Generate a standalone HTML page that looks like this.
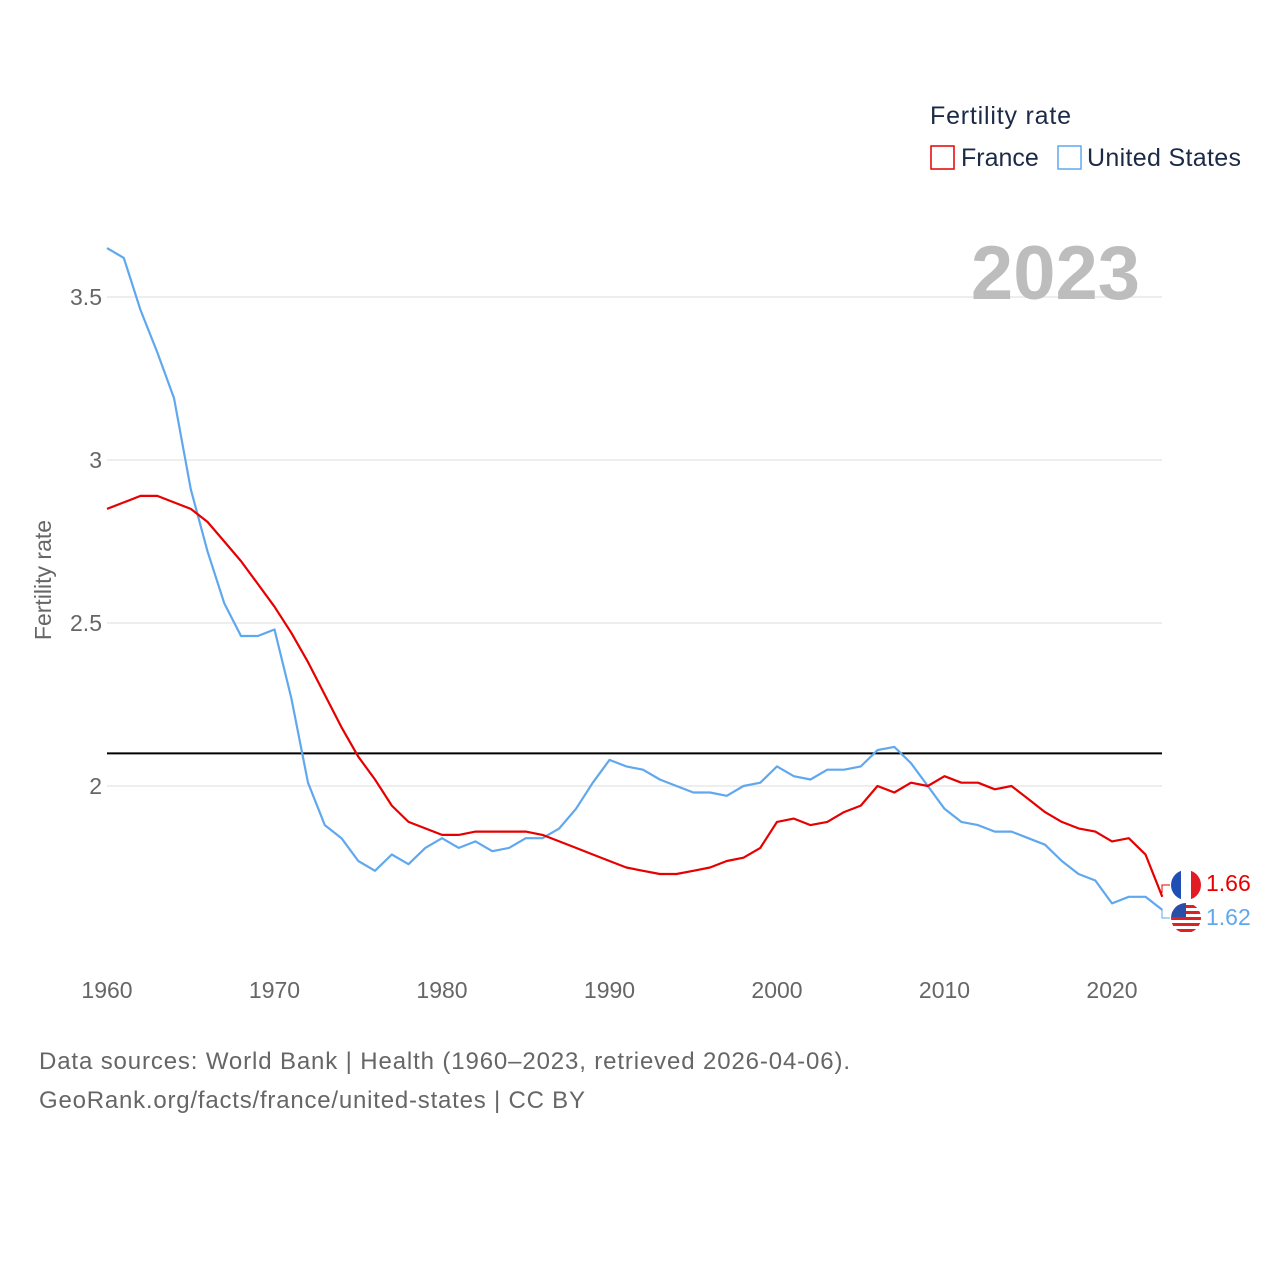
<!DOCTYPE html>
<html><head><meta charset="utf-8"><style>
body{margin:0;background:#fff;font-family:"Liberation Sans",sans-serif;}
svg text{font-family:"Liberation Sans",sans-serif;}
</style></head><body>
<svg id="chart" width="1280" height="1280" viewBox="0 0 1280 1280" xmlns="http://www.w3.org/2000/svg">
<rect width="1280" height="1280" fill="#fff"/>
<g id="grid"></g>
<g id="ylabels"></g>
<g id="xlabels"></g>
<text x="1140" y="299" text-anchor="end" font-size="76" font-weight="bold" fill="#bdbdbd">2023</text>
<text transform="translate(51,580) rotate(-90)" text-anchor="middle" font-size="23" fill="#666">Fertility rate</text>
<line id="refline" x1="107" x2="1162" stroke="#000" stroke-width="2"/>
<g id="series"></g>
<g>
<text x="930" y="124" font-size="25" fill="#1b2a47" textLength="141">Fertility rate</text>
<rect x="931" y="146" width="23" height="23" fill="none" stroke="#e60000" stroke-width="1.5"/>
<text x="961" y="166" font-size="25" fill="#1b2a47">France</text>
<rect x="1058" y="146" width="23" height="23" fill="none" stroke="#5fa8ef" stroke-width="1.5"/>
<text x="1087" y="166" font-size="25" fill="#1b2a47" textLength="154">United States</text>
</g>
<path d="M1162,893 V885 H1170" fill="none" stroke="#e60000" stroke-width="1"/>
<path d="M1162,910 V918 H1170" fill="none" stroke="#5fa8ef" stroke-width="1"/>
<g>
<clipPath id="cf"><circle cx="1186" cy="885" r="15"/></clipPath>
<g clip-path="url(#cf)"><rect x="1171" y="870" width="10" height="30" fill="#1f4fb5"/><rect x="1181" y="870" width="10" height="30" fill="#fff"/><rect x="1191" y="870" width="10" height="30" fill="#e31b23"/></g>
</g>
<g>
<clipPath id="cu"><circle cx="1186" cy="918" r="15"/></clipPath>
<g clip-path="url(#cu)"><rect x="1171" y="903" width="30" height="30" fill="#fff"/>
<rect x="1171" y="905" width="30" height="3" fill="#d22"/><rect x="1171" y="911" width="30" height="3" fill="#d22"/><rect x="1171" y="917" width="30" height="3" fill="#d22"/><rect x="1171" y="923" width="30" height="3" fill="#d22"/><rect x="1171" y="929" width="30" height="3" fill="#d22"/>
<rect x="1171" y="903" width="15" height="14" fill="#2b4fa8"/></g>
</g>
<text id="lblF" x="1206" y="891" font-size="23" fill="#e60000"></text>
<text id="lblU" x="1206" y="925" font-size="23" fill="#5fa8ef"></text>
<text x="39" y="1069" font-size="24" fill="#666" textLength="811">Data sources: World Bank | Health (1960–2023, retrieved 2026-04-06).</text>
<text x="39" y="1108" font-size="24" fill="#666" textLength="546">GeoRank.org/facts/france/united-states | CC BY</text>
</svg>
<script>
const years=[];for(let y=1960;y<=2023;y++)years.push(y);
const france=[2.85,2.87,2.89,2.89,2.87,2.85,2.81,2.75,2.69,2.62,2.55,2.47,2.38,2.28,2.18,2.09,2.02,1.94,1.89,1.87,1.85,1.85,1.86,1.86,1.86,1.86,1.85,1.83,1.81,1.79,1.77,1.75,1.74,1.73,1.73,1.74,1.75,1.77,1.78,1.81,1.89,1.90,1.88,1.89,1.92,1.94,2.00,1.98,2.01,2.00,2.03,2.01,2.01,1.99,2.00,1.96,1.92,1.89,1.87,1.86,1.83,1.84,1.79,1.66];
const us=[3.65,3.62,3.46,3.33,3.19,2.91,2.72,2.56,2.46,2.46,2.48,2.27,2.01,1.88,1.84,1.77,1.74,1.79,1.76,1.81,1.84,1.81,1.83,1.80,1.81,1.84,1.84,1.87,1.93,2.01,2.08,2.06,2.05,2.02,2.00,1.98,1.98,1.97,2.00,2.01,2.06,2.03,2.02,2.05,2.05,2.06,2.11,2.12,2.07,2.00,1.93,1.89,1.88,1.86,1.86,1.84,1.82,1.77,1.73,1.71,1.64,1.66,1.66,1.62];
const yTicks=[2,2.5,3,3.5];
const xTicks=[1960,1970,1980,1990,2000,2010,2020];
const refValue=2.1;
const NS="http://www.w3.org/2000/svg";
const X=y=>107+(y-1960)*16.75;
const Y=v=>786-(v-2)*326;
const grid=document.getElementById('grid'),yl=document.getElementById('ylabels'),xl=document.getElementById('xlabels');
yTicks.forEach(t=>{
 const l=document.createElementNS(NS,'line');
 
 
 l.setAttribute('x1',107);l.setAttribute('x2',1162);l.setAttribute('y1',Y(t));l.setAttribute('y2',Y(t));l.setAttribute('stroke','#e8e8e8');l.setAttribute('stroke-width','1.5');grid.appendChild(l);
 const tx=document.createElementNS(NS,'text');
 
 
 tx.setAttribute('x',102);tx.setAttribute('y',Y(t)+8);tx.setAttribute('text-anchor','end');tx.setAttribute('font-size','23');tx.setAttribute('fill','#666');tx.textContent=String(t);yl.appendChild(tx);
});
xTicks.forEach(t=>{
 const tx=document.createElementNS(NS,'text');
 
 
 tx.setAttribute('x',X(t));tx.setAttribute('y',998);tx.setAttribute('text-anchor','middle');tx.setAttribute('font-size','23');tx.setAttribute('fill','#666');tx.textContent=String(t);xl.appendChild(tx);
});
const rl=document.getElementById('refline');rl.setAttribute('y1',Y(refValue));rl.setAttribute('y2',Y(refValue));
const sg=document.getElementById('series');
function draw(vals,color,name){
 const p=document.createElementNS(NS,'path');
 
 
 p.setAttribute('d',vals.map((v,i)=>(i?'L':'M')+X(years[i]).toFixed(1)+','+Y(v).toFixed(1)).join(''));
 p.setAttribute('fill','none');p.setAttribute('stroke',color);p.setAttribute('stroke-width','2.2');p.setAttribute('stroke-linejoin','round');sg.appendChild(p);
}
draw(us,'#5fa8ef','us-line');
draw(france,'#e60000','france-line');
document.getElementById('lblF').textContent=france[france.length-1].toFixed(2);
document.getElementById('lblU').textContent=us[us.length-1].toFixed(2);
</script>
</body></html>
